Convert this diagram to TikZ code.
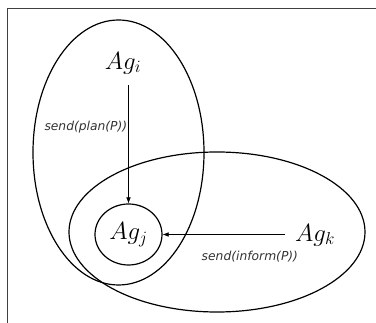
\documentclass[tikz,border=0pt]{standalone}
\usepackage{fontspec}
\newfontfamily\labelfont{DejaVu Sans}
\usetikzlibrary{arrows.meta,shapes.geometric}

\tikzset{
  group/.style={draw, ellipse, line width=1.2pt, inner sep=0pt},
  agent/.style={font=\fontsize{23}{26}\selectfont, inner sep=2pt},
  msg/.style={->, >={Latex[length=6pt,width=4.5pt]}, line width=0.5pt},
  msglabel/.style={font=\labelfont\itshape\fontsize{12.3}{14}\selectfont, text=black!80}
}

\begin{document}
\begin{tikzpicture}[x=1pt, y=-1pt]
        \useasboundingbox (0,0) rectangle (376,323);

        % Rahmen
        \draw[line width=1pt, black!75] (376,9) -- (7,9) -- (7,323);

        % Gruppen
        \node[group, minimum width=171pt, minimum height=265pt] (grpi) at (118.5,152.5) {};
        \node[group, minimum width=296pt, minimum height=160pt] (grpk) at (217,232) {};

        % Agenten
        \node[agent] (agi) at (123,63) {$Ag_{i}$};
        \node[agent, draw, ellipse, line width=1.2pt, minimum width=67pt, minimum height=61pt, inner sep=0pt] (agj) at (128.5,234.5) {$Ag_{j}$};
        \node[agent] (agk) at (315,235) {$Ag_{k}$};

        % Nachrichten
        \draw[msg, shorten <=9pt] (agi.south -| agj.north) -- (agj.north)
          node[msglabel, pos=0.4, left, inner sep=1pt] (lbli) {send(plan(P))};
        \draw[msg, shorten <=8pt] (agk.west |- agj.east) -- (agj.east)
          node[msglabel, pos=0.33, below=13pt] (lblk) {send(inform(P))};
    \end{tikzpicture}
\end{document}
